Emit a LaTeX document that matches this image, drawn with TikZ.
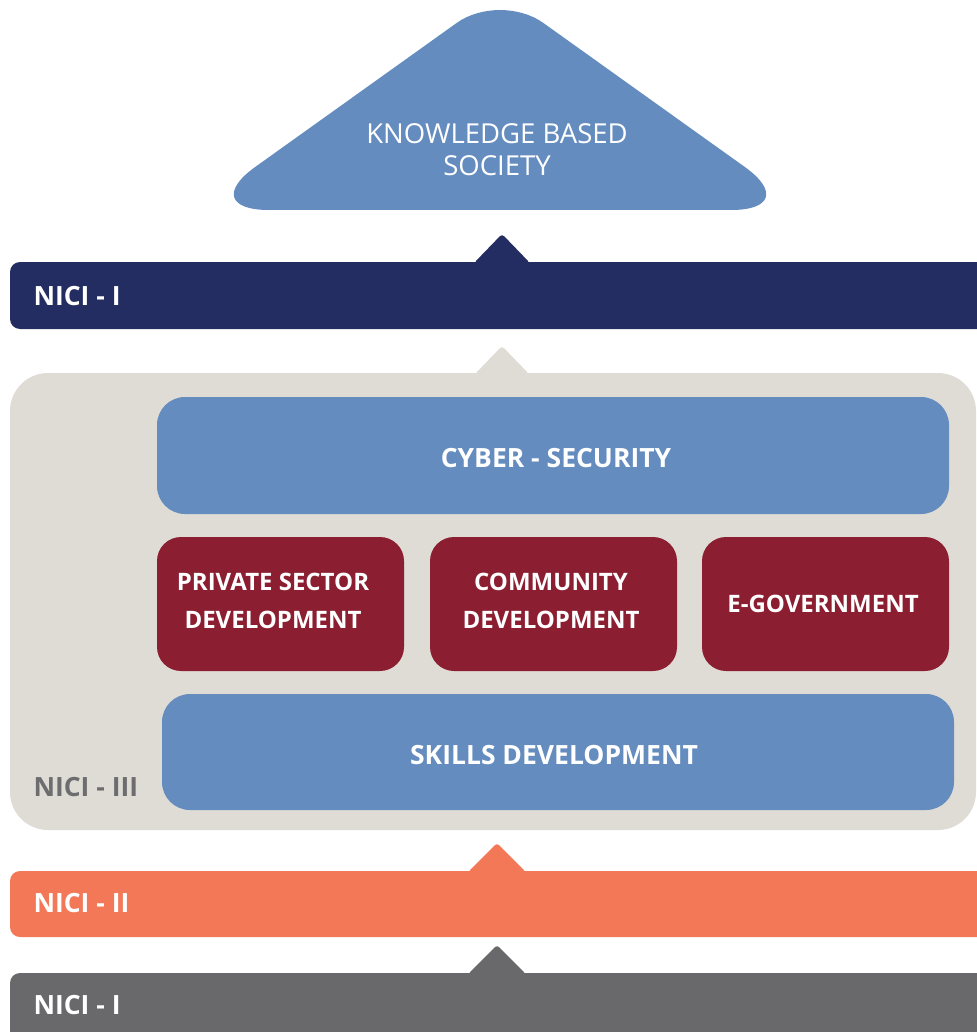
\documentclass[tikz,border=0pt]{standalone}
\usepackage{fontspec}
\setmainfont{Open Sans}
\definecolor{navy}{HTML}{232D61}
\definecolor{lblue}{HTML}{648CBF}
\definecolor{pale}{HTML}{DFDCD6}
\definecolor{wine}{HTML}{8B1F31}
\definecolor{coral}{HTML}{F27858}
\definecolor{dgray}{HTML}{69696B}
\definecolor{lgray}{HTML}{6D6D6F}
\tikzset{
  lbl/.style={text=white,font=\bfseries\fontsize{26.5}{32}\selectfont,align=center},
  redlbl/.style={text=white,font=\bfseries\fontsize{24}{38}\selectfont,align=center},
  barlbl/.style={text=white,font=\bfseries\fontsize{26.5}{32}\selectfont,anchor=west},
  box/.style={rounded corners=28},
  redbox/.style={rounded corners=24,fill=wine},
}
\begin{document}
\begin{tikzpicture}[x=1pt,y=-1pt]
\useasboundingbox (0,0) rectangle (976,1032);
% top triangle
\fill[lblue,rounded corners=74] (500,210) -- (195,210) [rounded corners=53] -- (500,-8) [rounded corners=74] -- (805,210) -- cycle;
\node[text=white,font=\fontsize{27.5}{32}\selectfont,align=center] (kbs) at (497,150) {KNOWLEDGE BASED\\SOCIETY};
% top NICI-I bar
\fill[navy,rounded corners=10] (10,262) rectangle (990,329);
\fill[navy,rounded corners=3] (474,263) -- (502,234) -- (530,263) -- cycle;
\node[barlbl] (n1top) at (30,296) {NICI - I};
% NICI-III container
\fill[pale,rounded corners=38] (10,373) rectangle (976,830);
\fill[pale,rounded corners=3] (475,374) -- (502,346) -- (529,374) -- cycle;
\node[text=lgray,font=\bfseries\fontsize{26.5}{32}\selectfont,anchor=west] (n3) at (30,787) {NICI - III};
% cyber security
\fill[lblue,box] (157,397) rectangle (949,514);
\node[lbl] (cyber) at (556,458) {CYBER - SECURITY};
% red boxes
\fill[redbox] (157,537) rectangle (404,671);
\node[redlbl] (psd) at (273,601) {PRIVATE SECTOR\\DEVELOPMENT};
\fill[redbox] (430,537) rectangle (677,671);
\node[redlbl] (cd) at (551,601) {COMMUNITY\\DEVELOPMENT};
\fill[redbox] (702,537) rectangle (949,671);
\node[redlbl] (eg) at (823,604) {E-GOVERNMENT};
% skills
\fill[lblue,box] (162,694) rectangle (954,810);
\node[lbl] (skills) at (554,755) {SKILLS DEVELOPMENT};
% NICI-II
\fill[coral,rounded corners=10] (10,871) rectangle (990,937);
\fill[coral,rounded corners=3] (468,872) -- (497,843) -- (526,872) -- cycle;
\node[barlbl] (n2) at (30,903) {NICI - II};
% NICI-I bottom
\fill[dgray,rounded corners=10] (10,973) rectangle (990,1060);
\fill[dgray,rounded corners=3] (468,974) -- (497,945) -- (526,974) -- cycle;
\node[barlbl] (n1bot) at (30,1005) {NICI - I};
\end{tikzpicture}
\end{document}
